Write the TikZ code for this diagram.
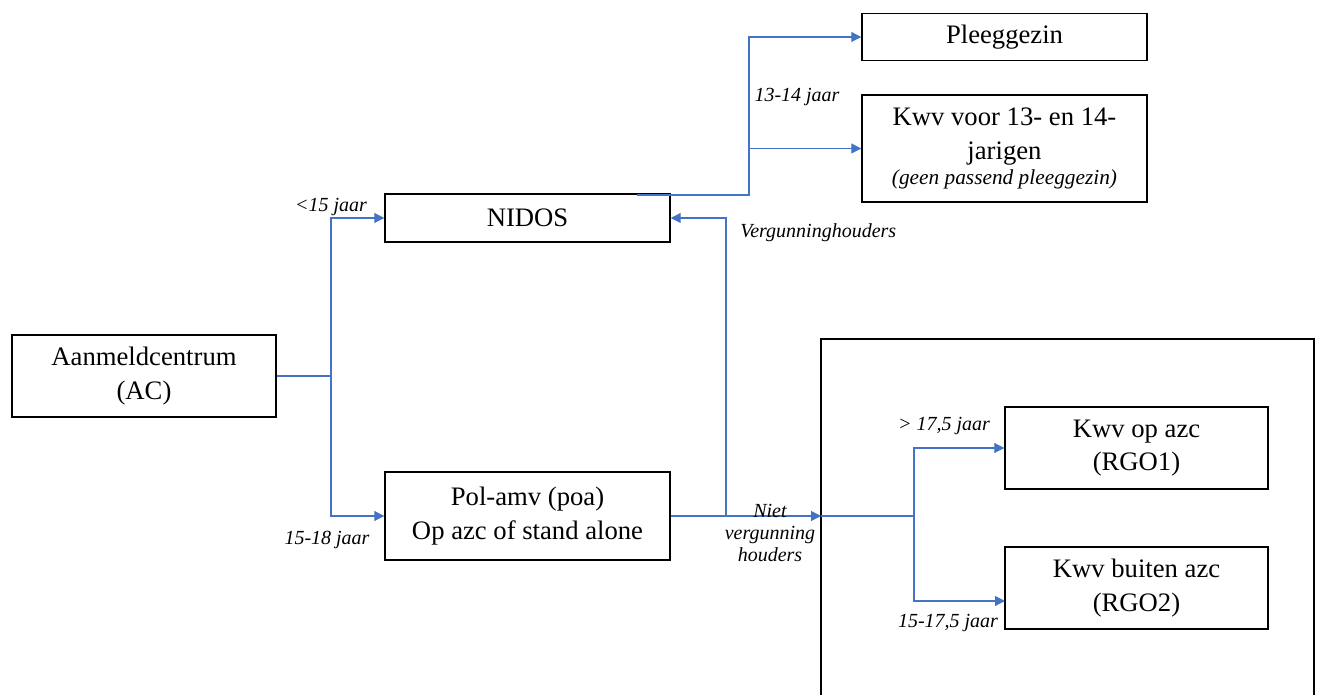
\documentclass[tikz,border=0pt]{standalone}
\usepackage{fontspec}
\setmainfont{Liberation Serif}
\usetikzlibrary{arrows.meta,positioning,calc}
\definecolor{linkblue}{RGB}{68,114,196}
\tikzset{
	box/.style={draw,line width=1.1pt,rectangle,align=center,inner sep=0pt,font=\fontsize{20}{25}\selectfont},
	lbl/.style={align=center,inner sep=0pt,font=\itshape\fontsize{15}{18.5}\selectfont},
	link/.style={draw=linkblue,line width=0.8pt},
	-tri/.style={link,-{Triangle[length=7.5pt,width=7.5pt]}}
}
\begin{document}
\begin{tikzpicture}[x=0.75pt,y=-0.75pt]
	\useasboundingbox (0,0) rectangle (1317,695);
	\node[box,minimum width=198pt,minimum height=61.5pt] (ac) at (144,376) {Aanmeldcentrum\\(AC)};
	\node[box,minimum width=213.75pt,minimum height=36pt] (nidos) at (527.5,218) {NIDOS};
	\node[box,minimum width=213.75pt,minimum height=66pt] (poa) at (527.5,516) {Pol-amv (poa)\\Op azc of stand alone};
	\node[box,minimum width=213.75pt,minimum height=35.25pt] (pleeg) at (1004.5,37) {Pleeggezin};
	\node[box,minimum width=213.75pt,minimum height=80.25pt] (kwv) at (1004.5,148.5) {Kwv voor 13- en 14-\\jarigen\\[-6pt]{\itshape\fontsize{16}{18}\selectfont (geen passend pleeggezin)}};
	\draw[line width=1.1pt] (821,720) -- (821,339) coordinate (outer) -- (1314,339) -- (1314,720);
	\node[box,minimum width=197.25pt,minimum height=61.5pt] (rgoa) at (1136.5,448) {Kwv op azc\\(RGO1)};
	\node[box,minimum width=197.25pt,minimum height=61.5pt] (rgob) at (1136.5,588) {Kwv buiten azc\\(RGO2)};

	\coordinate (split) at (331,376);
	\coordinate (nout) at (637,195);
	\coordinate (njoin) at (749,195);
	\coordinate (vsplit) at (726,516);
	\coordinate (oin) at (821,516);
	\coordinate (osplit) at (914,516);
	\coordinate (rgobin) at (1005,601);

	\draw[link] (ac) -- (split);
	\draw[-tri] (split) |- (nidos);
	\draw[-tri] (split) |- (poa);
	\draw[-tri] (nout) -- (njoin) |- (pleeg);
	\draw[-tri] (njoin) |- (kwv);
	\draw[-tri] (vsplit) |- (nidos.east);
	\draw[-tri] (poa) -- (oin);
	\draw[link] (oin) -- (osplit);
	\draw[-tri] (osplit) |- (rgoa);
	\draw[-tri] (osplit) |- (rgobin);

	\node[lbl] (l15) at (331,207) {<15 jaar};
	\node[lbl] (l1518) at (327,540) {15-18 jaar};
	\node[lbl] (l1314) at (797,97) {13-14 jaar};
	\node[lbl,anchor=west] (lverg) at (740,233) {Vergunninghouders};
	\node[lbl,font=\itshape\fontsize{15}{16.5}\selectfont] (lniet) at (770,533) {Niet\\vergunning\\houders};
	\node[lbl] (l175) at (944,426) {> 17,5 jaar};
	\node[lbl] (l15175) at (948,623) {15-17,5 jaar};
\end{tikzpicture}
\end{document}
